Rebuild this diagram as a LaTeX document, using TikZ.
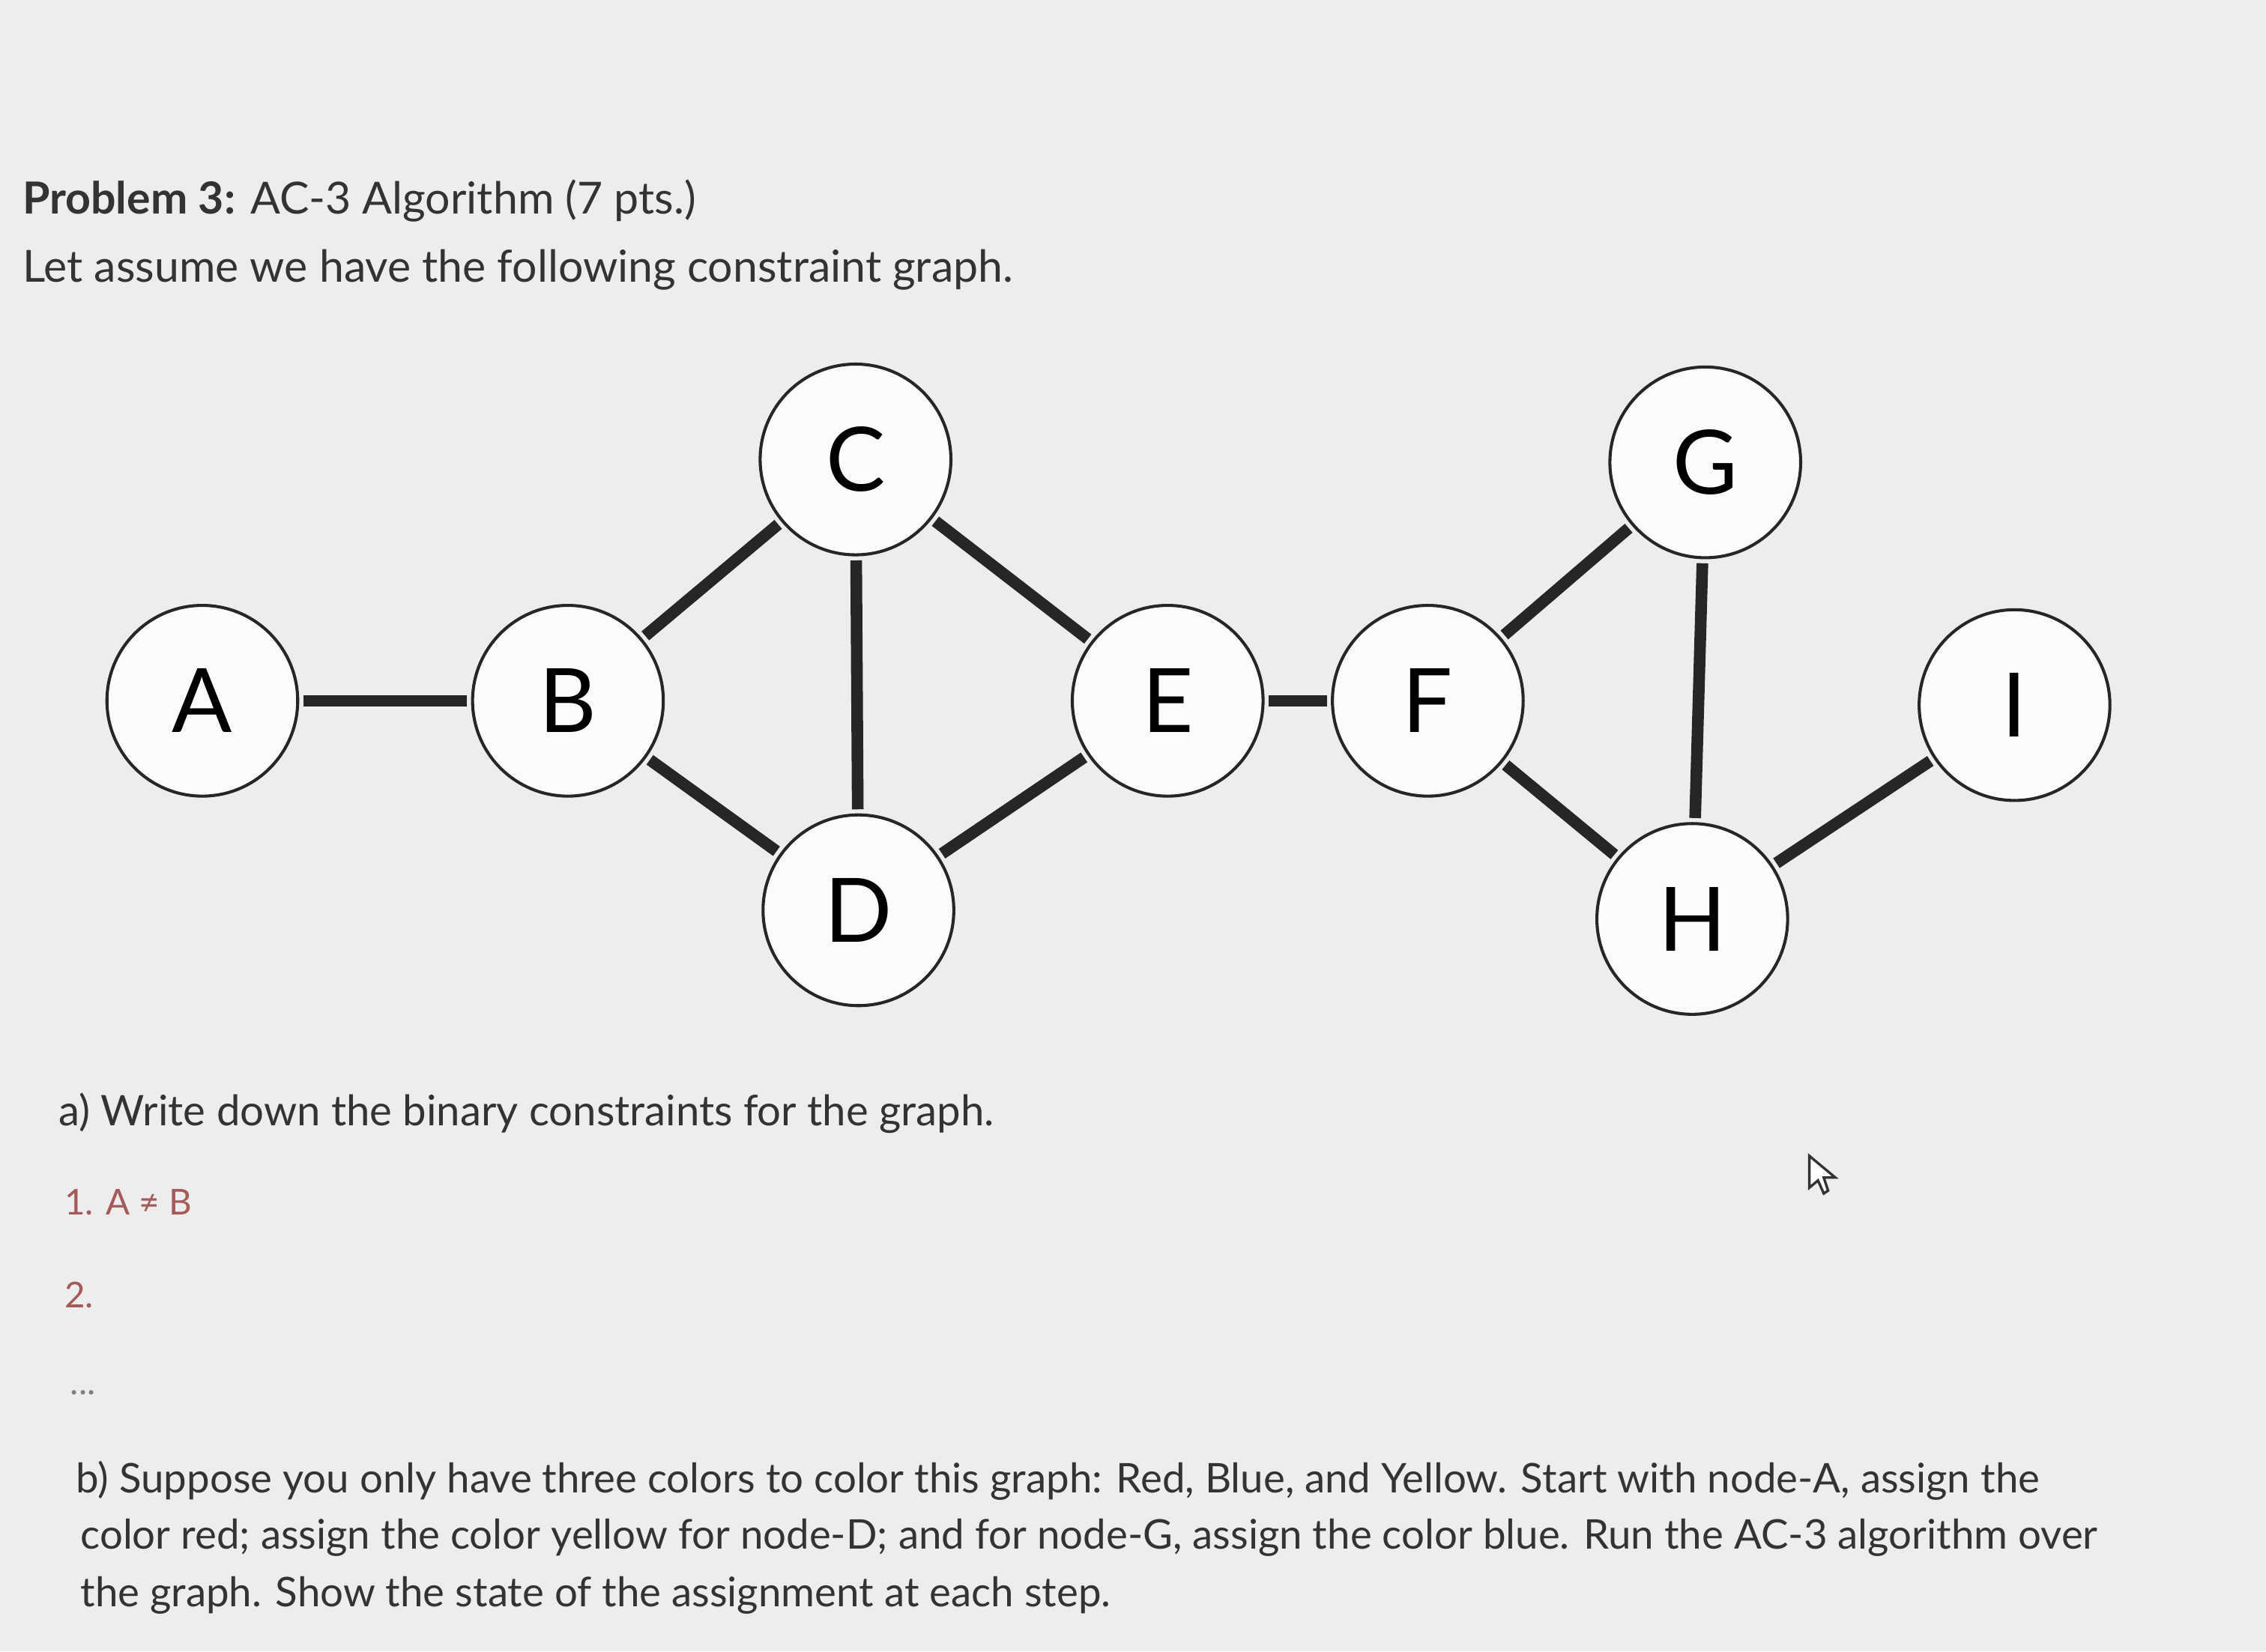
\documentclass[tikz,border=0pt]{standalone}
\usepackage{fontspec}
\setmainfont{Lato}
\begin{document}
\begin{tikzpicture}[x=0.01cm,y=-0.01cm,
  vert/.style={circle,draw=black!85,line width=0.6pt,fill=white!97!gray,minimum size=132*0.01cm,inner sep=0pt,font=\fontsize{17.5}{20}\selectfont},
  edge/.style={line width=2.3pt,black!85,shorten <=0.8pt,shorten >=0.8pt},
  txt/.style={anchor=base west,inner sep=0pt,font=\fontsize{8.3}{10}\selectfont,text=black!80},
  small/.style={anchor=base west,inner sep=0pt,font=\fontsize{7}{9}\selectfont}]
\fill[gray!14] (0,0) rectangle (1568,1143);
\useasboundingbox (0,0) rectangle (1568,1143);
\node[txt,font=\fontsize{8.7}{10}\selectfont] (t1) at (15,148) {\textbf{Problem 3:} AC-3 Algorithm (7 pts.)};
\node[txt,font=\fontsize{8.7}{10}\selectfont] (t2) at (15,195) {Let assume we have the following constraint graph.};
\node[vert] (A) at (140,485) {A};
\node[vert] (B) at (393,485) {B};
\node[vert] (C) at (592,318) {C};
\node[vert] (D) at (594,630) {D};
\node[vert] (E) at (808,485) {E};
\node[vert] (F) at (988,485) {F};
\node[vert] (G) at (1180,320) {G};
\node[vert] (H) at (1171,636) {H};
\node[vert] (I) at (1394,488) {I};
\draw[edge] (A) -- (B);
\draw[edge] (B) -- (C);
\draw[edge] (B) -- (D);
\draw[edge] (C) -- (D);
\draw[edge] (C) -- (E);
\draw[edge] (D) -- (E);
\draw[edge] (E) -- (F);
\draw[edge] (F) -- (G);
\draw[edge] (F) -- (H);
\draw[edge] (G) -- (H);
\draw[edge] (H) -- (I);
\node[txt] (a) at (40,779) {a) Write down the binary constraints for the graph.};
\node[small,text=red!30!gray] (c1) at (44,841) {1. A \char"2260{} B};
\node[small,text=red!30!gray] (c2) at (44,905) {2.};
\node[small,text=gray] (c3) at (48,965) {...};
\node[txt,font=\fontsize{8.05}{10}\selectfont] (b1) at (52,1033) {b) Suppose you only have three colors to color this graph: Red, Blue, and Yellow. Start with node-A, assign the};
\node[txt,font=\fontsize{8.05}{10}\selectfont] (b2) at (55,1072) {color red; assign the color yellow for node-D; and for node-G, assign the color blue. Run the AC-3 algorithm over};
\node[txt,font=\fontsize{8.05}{10}\selectfont] (b3) at (55,1112) {the graph. Show the state of the assignment at each step.};
\draw[black!80,line width=0.5pt,fill=white] (1252,800) -- (1252,822) -- (1258,817) -- (1262,826) -- (1265,824) -- (1262,815) -- (1270,815) -- cycle;
\end{tikzpicture}
\end{document}
